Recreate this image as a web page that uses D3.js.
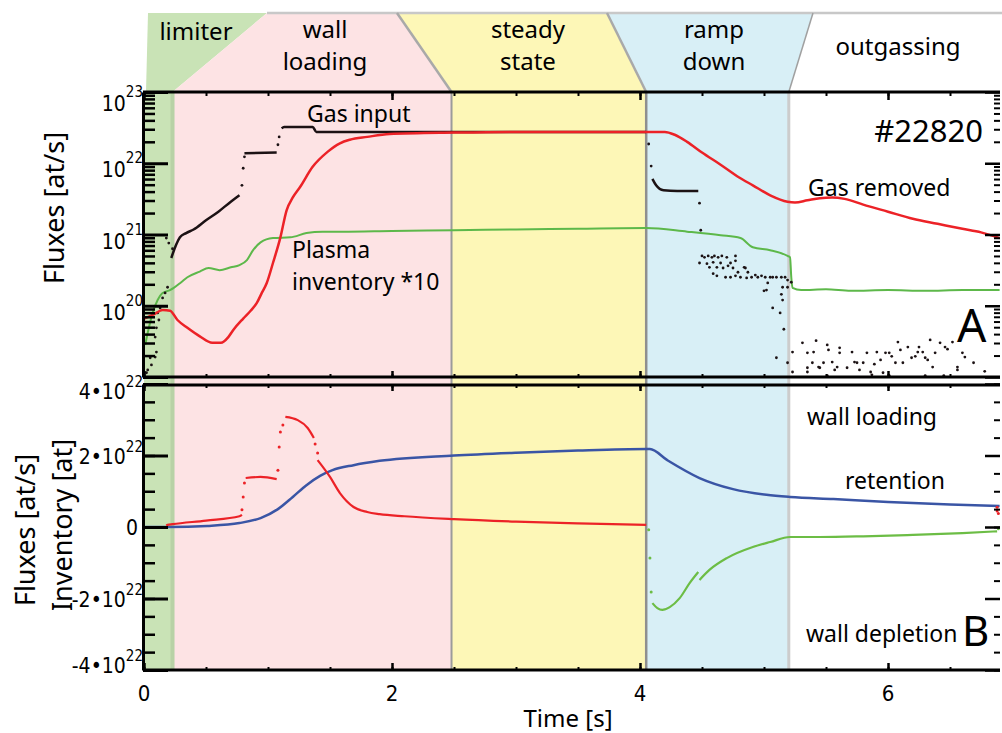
<!DOCTYPE html>
<html>
<head>
<meta charset="utf-8">
<script src="https://cdn.jsdelivr.net/npm/d3@7"></script>
<style>
    body { margin: 0; background: #fff; }
    svg { display: block; font-family: "Noto Sans", "Open Sans", sans-serif; }
    .num { font-family: "Liberation Sans Narrow", "DejaVu Sans Condensed", "Roboto", sans-serif; }
</style>
</head>
<body>
<svg id="chart" width="1002" height="733"></svg>
<script>
(function(){

    //phases of the discharge (start times in s)
    var phaseNames = [["limiter"], ["wall", "loading"], ["steady", "state"], ["ramp", "down"], ["outgassing"]];
    var phaseEdges = [0, 0.23, 2.48, 4.05, 5.2, 6.9];
    var phaseColors = ["#c9e3b6", "#fde3e4", "#fdf7b7", "#d8eff6", "#ffffff"];

    //tick values
    var xTicks = [0, 2, 4, 6];
    var topDecades = [19, 20, 21, 22, 23];
    var botTicks = [-4, -2, 0, 2, 4];

    //panel A, values are log10 of the flux [at/s]
    var gasInputLine = [
        [0.22,20.67],[0.26,20.86],[0.29,20.96],[0.34,21.02],[0.40,21.07],[0.50,21.20],[0.60,21.32],[0.70,21.46],[0.77,21.55], null,
        [0.81,22.14],[1.07,22.15], null,
        [1.11,22.49],[1.13,22.51],[1.36,22.51],[1.39,22.44],[2.0,22.44],[3.0,22.44],[4.05,22.44], null,
        [4.10,21.78],[4.13,21.69],[4.19,21.62],[4.30,21.61],[4.47,21.61]
    ];
    var gasInputDots = [
        [0.02,19.06],[0.03,19.10],[0.06,19.17],[0.05,19.27],[0.09,19.28],[0.10,19.35],[0.09,19.56],[0.10,19.69],
        [0.12,19.80],[0.11,19.90],[0.13,19.97],[0.15,20.11],[0.17,20.18],[0.19,20.26],
        [0.18,20.95],[0.20,20.88],[0.23,20.80],[0.79,21.69],[0.80,21.93],[0.81,22.09],[1.08,22.26],[1.09,22.37],
        [4.07,22.27],[4.09,21.96],[4.48,21.44],[4.49,21.06],
        [4.50,20.70],[4.52,20.68],[4.55,20.70],[4.58,20.68],[4.60,20.70],[4.63,20.68],[4.66,20.70],[4.70,20.68],[4.77,20.70],
        [4.48,20.60],[4.54,20.59],[4.59,20.61],[4.65,20.60],[4.56,20.54],[4.62,20.54],[4.67,20.53],[4.71,20.56],[4.73,20.60],
        [4.75,20.53],[4.77,20.63],[4.79,20.47],[4.59,20.45],[4.62,20.42],[4.69,20.40],[4.73,20.40],[4.77,20.42],[4.81,20.40],
        [4.84,20.54],[4.85,20.53],[4.87,20.47],[4.86,20.39],[4.90,20.40],[4.93,20.43],[4.95,20.40],[4.98,20.42],[5.01,20.40],
        [5.05,20.40],[5.07,20.40],[5.10,20.40],[5.14,20.40],[5.17,20.40],[5.19,20.36],[5.03,20.32],[5.02,20.22],[5.00,20.21],
        [5.15,20.26],[5.14,20.16],[5.15,20.08],[5.19,20.26],[5.22,20.33],[5.07,19.97],[5.13,19.90],
        [5.16,19.67],[5.10,19.27],[5.19,19.20],[5.23,19.35],[5.23,19.07],[5.31,19.48],[5.35,19.34],[5.40,19.35],[5.42,19.51],
        [5.39,19.20],[5.35,19.13],[5.35,19.07],[5.44,19.14],[5.45,19.13],[5.48,19.20],[5.51,19.45],[5.52,19.38],[5.55,19.21],
        [5.59,19.14],[5.57,19.10],[5.61,19.41],[5.61,19.34],[5.67,19.13],[5.71,19.35],[5.73,19.21],[5.75,19.20],[5.77,19.10],
        [5.80,19.20],[5.83,19.34],[5.86,19.07],[5.87,19.03],[5.89,19.18],[5.91,19.35],[5.94,19.24],[5.96,19.06],[5.98,19.34],
        [6.01,19.34],[6.03,19.29],[6.06,19.20],[6.08,19.49],[6.10,19.38],[6.12,19.20],[6.16,19.42],[6.19,19.27],[6.22,19.29],
        [6.24,19.35],[6.25,19.42],[6.28,19.35],[6.30,19.27],[6.34,19.52],[6.32,19.24],[6.36,19.14],[6.38,19.34],[6.42,19.48],
        [6.46,19.42],[6.48,19.39],[6.52,19.49],[6.56,19.10],[6.56,19.14],[6.60,19.34],[6.62,19.28],[6.69,19.20],[6.78,19.08],
        [5.51,19.02],[6.01,19.02],[6.30,19.02],[6.45,19.02]
    ];
    var gasRemoved = [
        [0.0,19.82],[0.08,19.88],[0.15,19.94],[0.21,19.93],[0.27,19.80],[0.35,19.69],[0.45,19.57],[0.55,19.48],[0.62,19.48],
        [0.68,19.56],[0.72,19.66],[0.80,19.82],[0.86,19.93],[0.91,20.04],[0.95,20.18],[0.99,20.32],[1.04,20.60],[1.10,20.96],
        [1.15,21.34],[1.20,21.52],[1.26,21.67],[1.36,21.95],[1.48,22.16],[1.58,22.28],[1.66,22.33],[1.80,22.37],[1.98,22.41],
        [2.5,22.43],[3.0,22.44],[3.5,22.44],[4.05,22.44],[4.20,22.44],[4.28,22.40],[4.38,22.30],[4.5,22.15],[4.65,21.98],
        [4.8,21.80],[4.91,21.69],[5.05,21.55],[5.19,21.46],[5.25,21.45],[5.35,21.48],[5.45,21.51],[5.55,21.52],[5.65,21.50],
        [5.8,21.42],[6.0,21.32],[6.2,21.22],[6.4,21.15],[6.6,21.08],[6.75,21.03],[6.9,20.95]
    ];
    var plasmaInventory = [
        [0.01,19.45],[0.03,19.62],[0.07,19.90],[0.11,20.08],[0.15,20.18],[0.21,20.22],[0.24,20.25],[0.30,20.33],[0.35,20.40],
        [0.45,20.48],[0.52,20.53],[0.61,20.50],[0.70,20.54],[0.77,20.57],[0.83,20.64],[0.88,20.78],[0.94,20.89],[1.04,20.95],
        [1.18,20.96],[1.31,21.02],[1.44,21.04],[1.6,21.04],[2.0,21.05],[2.5,21.06],[3.0,21.07],[3.5,21.08],[4.05,21.09],
        [4.38,21.04],[4.65,20.99],[4.81,20.95],[4.91,20.82],[5.05,20.78],[5.19,20.70],[5.21,20.68],[5.22,20.40],[5.23,20.25],
        [5.3,20.22],[5.5,20.23],[5.7,20.21],[6.0,20.22],[6.3,20.21],[6.6,20.22],[6.9,20.22]
    ];

    //panel B, values in 1e22 at/s (or at)
    var retention = [
        [0,0],[0.2,0],[0.51,0.03],[0.77,0.11],[0.94,0.25],[1.08,0.50],[1.20,0.84],[1.31,1.17],[1.42,1.43],[1.52,1.59],
        [1.69,1.73],[1.90,1.85],[2.5,2.0],[3.0,2.08],[3.5,2.14],[4.05,2.18],[4.08,2.18],[4.22,1.87],[4.48,1.37],[4.75,1.06],
        [5.02,0.90],[5.21,0.84],[5.56,0.78],[6.0,0.70],[6.5,0.63],[6.9,0.59]
    ];
    var wallLoading = [
        [0.18,0.04],[0.19,0.06],[0.23,0.08],[0.5,0.18],[0.77,0.30],[0.79,0.34], null,
        [0.82,1.37],[0.94,1.40],[1.07,1.34], null,
        [1.14,3.08],[1.24,2.99],[1.32,2.77],[1.37,2.49], null,
        [1.40,1.87],[1.50,1.40],[1.58,0.95],[1.69,0.56],[1.80,0.42],[1.90,0.36],[2.1,0.30],[2.5,0.22],[3.0,0.15],[3.5,0.10],[4.05,0.06]
    ];
    var wallLoadingDots = [
        [0.79,0.48],[0.80,0.84],[0.81,1.23],[1.08,1.59],[1.09,2.24],[1.10,2.66],[1.12,2.85],[1.38,2.32],[1.40,2.07],
        [6.88,0.55],[6.88,0.45],[6.89,0.38]
    ];
    var wallDepletion = [
        [4.10,-2.13],[4.14,-2.27],[4.18,-2.32],[4.24,-2.24],[4.32,-1.99],[4.40,-1.57],[4.47,-1.26], null,
        [4.48,-1.48],[4.56,-1.20],[4.70,-0.87],[4.91,-0.56],[5.05,-0.42],[5.21,-0.28],[5.45,-0.28],[5.8,-0.26],[6.2,-0.22],
        [6.6,-0.17],[6.88,-0.12]
    ];
    var wallDepletionDots = [[4.07,-0.08],[4.08,-0.87],[4.09,-1.82],[6.89,-0.05]];

    var svg = d3.select("#chart");

    //scales
    var x = d3.scaleLinear().domain([0, 6.9]).range([144, 999.6]);
    var yTop = d3.scaleLog().domain([1e19, 1e23]).range([377, 92]);
    var yBot = d3.scaleLinear().domain([-4, 4]).range([670, 384]);
    var pTop = function(d){ return yTop(Math.pow(10, d[1])); };

    //phase shading behind both panels
    svg.selectAll(".phase")
        .data(phaseColors)
        .enter()
        .append("rect")
        .attr("x", function(d, i){ return x(phaseEdges[i]); })
        .attr("y", 92)
        .attr("width", function(d, i){ return x(phaseEdges[i + 1]) - x(phaseEdges[i]); })
        .attr("height", 578)
        .attr("fill", function(d){ return d; });

    var edgeStyles = [["#b8d2a6", 4], ["#9b9b9b", 2], ["#8f8f8f", 2.5], ["#cccccc", 3]];
    svg.selectAll(".edge")
        .data(edgeStyles)
        .enter()
        .append("line")
        .attr("x1", function(d, i){ return x(phaseEdges[i + 1]); })
        .attr("x2", function(d, i){ return x(phaseEdges[i + 1]); })
        .attr("y1", 92).attr("y2", 670)
        .attr("stroke", function(d){ return d[0]; })
        .attr("stroke-width", function(d){ return d[1]; });

    //header band with the phase names
    var headTop = [148, 267, 397, 607, 813, 1002];
    var headBot = phaseEdges.map(function(t, i){ return i == 0 ? 146 : (i == 5 ? 1002 : x(t)); });
    var head = svg.append("g");
    phaseColors.forEach(function(c, i){
        var pts = [[headTop[i], 13], [headTop[i + 1], 13], [headBot[i + 1], 92], [headBot[i], 92]];
        head.append("polygon")
            .attr("points", pts.map(function(p){ return p.join(","); }).join(" "))
            .attr("fill", c);
    });
    head.append("line").attr("x1", 267).attr("x2", 1002).attr("y1", 13).attr("y2", 13)
        .attr("stroke", "#c8c8c8").attr("stroke-width", 2.5);
    [[397, headBot[2], "#a9a9a9", 2.5], [607, headBot[3], "#a9a9a9", 2.5], [813, headBot[4], "#a0a0a0", 1.5]].forEach(function(s){
        head.append("line").attr("x1", s[0]).attr("y1", 13).attr("x2", s[1]).attr("y2", 92)
            .attr("stroke", s[2]).attr("stroke-width", s[3]);
    });
    var headX = [196, 325, 528, 714, 898];
    phaseNames.forEach(function(lines, i){
        var base = lines.length == 2 ? [38, 70] : (i == 0 ? [40] : [55]);
        lines.forEach(function(s, j){
            head.append("text")
                .attr("x", headX[i]).attr("y", base[j])
                .attr("text-anchor", "middle")
                .style("font-size", "24px")
                .text(s);
        });
    });

    //data lines
    var lineTop = d3.line().defined(function(d){ return d; }).curve(d3.curveMonotoneX)
        .x(function(d){ return x(d[0]); }).y(pTop);
    var lineBot = d3.line().defined(function(d){ return d; }).curve(d3.curveMonotoneX)
        .x(function(d){ return x(d[0]); }).y(function(d){ return yBot(d[1]); });

    svg.append("path").datum(plasmaInventory).attr("d", lineTop)
        .attr("fill", "none").attr("stroke", "#5db84a").attr("stroke-width", 2);
    svg.append("path").datum(gasInputLine).attr("d", lineTop)
        .attr("fill", "none").attr("stroke", "#1c1214").attr("stroke-width", 2.5);
    svg.selectAll(".gdot").data(gasInputDots).enter().append("circle")
        .attr("cx", function(d){ return x(d[0]); }).attr("cy", pTop)
        .attr("r", 1.4).attr("fill", "#1c1214");
    svg.append("path").datum(gasRemoved).attr("d", lineTop)
        .attr("fill", "none").attr("stroke", "#ec2227").attr("stroke-width", 2.5);

    svg.append("path").datum(retention).attr("d", lineBot)
        .attr("fill", "none").attr("stroke", "#3a55a5").attr("stroke-width", 2.5);
    svg.append("path").datum(wallLoading).attr("d", lineBot)
        .attr("fill", "none").attr("stroke", "#ec2227").attr("stroke-width", 2.2);
    svg.selectAll(".rdot").data(wallLoadingDots).enter().append("circle")
        .attr("cx", function(d){ return x(d[0]); }).attr("cy", function(d){ return yBot(d[1]); })
        .attr("r", 1.5).attr("fill", "#ec2227");
    svg.append("path").datum(wallDepletion).attr("d", lineBot)
        .attr("fill", "none").attr("stroke", "#6cbd45").attr("stroke-width", 2.2);
    svg.selectAll(".vdot").data(wallDepletionDots).enter().append("circle")
        .attr("cx", function(d){ return x(d[0]); }).attr("cy", function(d){ return yBot(d[1]); })
        .attr("r", 1.5).attr("fill", "#6cbd45");

    //axes
    var minorTop = [];
    topDecades.slice(0, 4).forEach(function(e){
        for (var k = 2; k < 10; k++) minorTop.push(k * Math.pow(10, e));
    });
    var majorTop = topDecades.map(function(e){ return Math.pow(10, e); });
    var minorBot = d3.range(-4, 4.01, 0.5);
    var minorX = d3.range(0, 6.9, 0.5);

    function drawAxis(gen, tr, vals, size, width){
        var g = svg.append("g")
            .attr("transform", tr)
            .call(gen.tickValues(vals).tickSize(size).tickSizeOuter(0).tickFormat(""));
        g.selectAll("line").attr("stroke", "#000").attr("stroke-width", width);
        return g;
    }
    [[yTop, minorTop, majorTop], [yBot, minorBot, botTicks]].forEach(function(a){
        drawAxis(d3.axisLeft(a[0]), "translate(143,0)", a[1], -12, 2.5).select(".domain").remove();
        drawAxis(d3.axisLeft(a[0]), "translate(143,0)", a[2], -25, 3).select(".domain")
            .attr("stroke", "#000").attr("stroke-width", 3);
        drawAxis(d3.axisRight(a[0]), "translate(1000,0)", a[1], -6, 2).select(".domain").remove();
        drawAxis(d3.axisRight(a[0]), "translate(1000,0)", a[2], -15, 2.5).select(".domain").remove();
    });
    [[d3.axisTop, 92, -4, -8], [d3.axisBottom, 377, -3, -6], [d3.axisTop, 385, -3, -6], [d3.axisBottom, 670, -3, -7]].forEach(function(a){
        drawAxis(a[0](x), "translate(0," + a[1] + ")", minorX, a[2], 2).select(".domain").remove();
        drawAxis(a[0](x), "translate(0," + a[1] + ")", xTicks, a[3], 2.5).select(".domain").remove();
        svg.append("line").attr("x1", 143).attr("x2", 1000).attr("y1", a[1]).attr("y2", a[1])
            .attr("stroke", "#000").attr("stroke-width", 3);
    });

    //tick labels
    topDecades.slice(1).forEach(function(e){
        var yy = yTop(Math.pow(10, e));
        var t = svg.append("text").attr("class", "num")
            .attr("x", 143).attr("y", yy + (e == 23 ? 19 : 14))
            .attr("text-anchor", "end").style("font-size", "21px").text("10");
        t.append("tspan").attr("dy", -14).style("font-size", "15px").text(e);
    });
    botTicks.forEach(function(v){
        var yy = yBot(v);
        var off = v == 4 ? 15 : (v == -4 ? 3 : 8);
        var t = svg.append("text").attr("class", "num")
            .attr("x", v == 0 ? 138 : 143).attr("y", yy + off)
            .attr("text-anchor", "end").style("font-size", "21px")
            .text(v == 0 ? "0" : (v < 0 ? "-" : "") + Math.abs(v) + "\u202210");
        if (v != 0) t.append("tspan").attr("dy", -12).style("font-size", "15px").text("22");
    });
    svg.selectAll(".xl").data(xTicks).enter().append("text").attr("class", "num")
        .attr("x", function(d){ return x(d); }).attr("y", 701)
        .attr("text-anchor", "middle").style("font-size", "22px")
        .text(function(d){ return d; });

    //axis titles
    svg.append("text").attr("transform", "translate(568,727)").attr("text-anchor", "middle")
        .style("font-size", "24px").text("Time [s]");
    svg.append("text").attr("transform", "translate(64,208) rotate(-90)").attr("text-anchor", "middle")
        .style("font-size", "27px").text("Fluxes [at/s]");
    svg.append("text").attr("transform", "translate(35,530) rotate(-90)").attr("text-anchor", "middle")
        .style("font-size", "27px").text("Fluxes [at/s]");
    svg.append("text").attr("transform", "translate(72,525) rotate(-90)").attr("text-anchor", "middle")
        .style("font-size", "27px").text("Inventory [at]");

    //annotations
    var notes = [
        ["Gas input", 307, 122, 23, "start"],
        ["Plasma", 292, 258, 23, "start"],
        ["inventory *10", 292, 290, 23, "start"],
        ["#22820", 983, 142, 31, "end"],
        ["Gas removed", 808, 196, 23, "start"],
        ["A", 957, 342, 46, "start"],
        ["wall loading", 807, 425, 23, "start"],
        ["retention", 845, 489, 23, "start"],
        ["wall depletion", 806, 642, 23, "start"],
        ["B", 962, 646, 42, "start"]
    ];
    notes.forEach(function(n){
        svg.append("text").attr("x", n[1]).attr("y", n[2])
            .attr("text-anchor", n[4]).style("font-size", n[3] + "px").text(n[0]);
    });

})();
</script>
</body>
</html>
